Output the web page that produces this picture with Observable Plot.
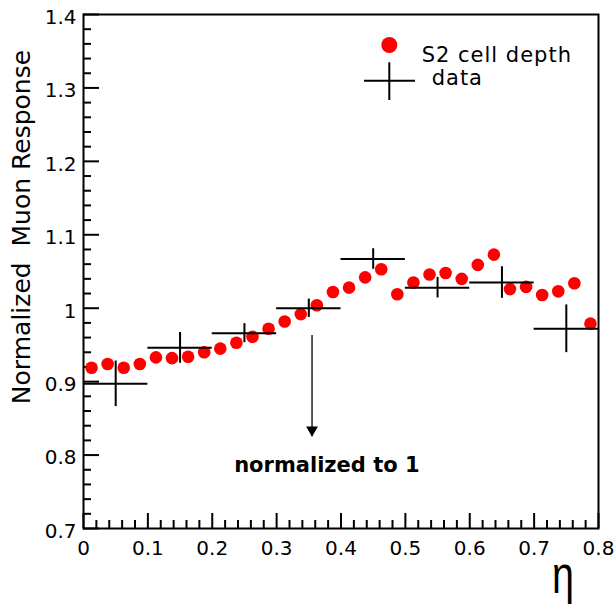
<!DOCTYPE html>
<html><head><meta charset="utf-8">
<script src="https://cdn.jsdelivr.net/npm/d3@7"></script>
<script src="https://cdn.jsdelivr.net/npm/@observablehq/plot@0.6"></script>
<style>body{margin:0;background:#fff} svg text{white-space:pre}</style>
</head><body><div id="chart"></div>
<script>
// Simulation: S2 cell depth (red dots)
const simEta = [0.0125,0.0375,0.0625,0.0875,0.1125,0.1375,0.1625,0.1875,0.2125,0.2375,0.2625,0.2875,0.3125,0.3375,0.3625,0.3875,
                0.4125,0.4375,0.4625,0.4875,0.5125,0.5375,0.5625,0.5875,0.6125,0.6375,0.6625,0.6875,0.7125,0.7375,0.7625,0.7875];
const simValues = [0.919,0.924,0.919,0.924,0.933,0.932,0.934,0.940,0.945,0.953,0.961,0.972,0.982,0.992,1.004,1.022,
                   1.028,1.042,1.053,1.019,1.035,1.046,1.048,1.040,1.059,1.073,1.026,1.029,1.018,1.023,1.034,0.979];
// Data (crosses)
const dataEta = [0.05,0.15,0.25,0.35,0.45,0.55,0.65,0.75];
const dataValues = [0.897,0.946,0.966,1.0,1.067,1.028,1.035,0.972];
const dataErrors = [0.031,0.021,0.013,0.0125,0.014,0.014,0.0215,0.0325];
const dataHalfWidth = [0.05,0.05,0.05,0.05,0.05,0.05,0.05,0.05];
// Axis ticks
const xMajor = [0,0.1,0.2,0.3,0.4,0.5,0.6,0.7,0.8];
const yMajor = [0.7,0.8,0.9,1.0,1.1,1.2,1.3,1.4];
const xMinor = d3.range(1,40).map(i=>i*0.02).filter(v=>Math.abs(v*10-Math.round(v*10))>1e-6);
const yMinor = d3.range(1,35).map(i=>0.7+i*0.02).filter(v=>Math.abs(v*10-Math.round(v*10))>1e-6);
// Annotation
const annotText = ["normalized to 1"];
const annotEta = [0.378];
const annotValue = [0.786];
const arrowEta = [0.355];
const arrowFrom = [0.963];
const arrowTo = [0.825];
const yTitle = ["Normalized  Muon Response"];
const legendLabels = ["S2 cell depth", "data"];

const sim = simEta.map((e,i)=>({eta:e, v:simValues[i]}));
const dat = dataEta.map((e,i)=>({eta:e, v:dataValues[i], err:dataErrors[i], hw:dataHalfWidth[i]}));
const arrow = arrowEta.map((e,i)=>({eta:e, from:arrowFrom[i], to:arrowTo[i]}));
const annot = annotText.map((t,i)=>({t, eta:annotEta[i], v:annotValue[i]}));

const W=615,H=606, mL=83, mR=17, mT=14, mB=78;
const iW=W-mL-mR, iH=H-mT-mB;
const FONT="DejaVu Sans";

const chart = Plot.plot({
  width:W, height:H, marginLeft:mL, marginRight:mR, marginTop:mT, marginBottom:mB,
  style:{fontFamily:FONT, fontSize:"20px", background:"white", color:"black"},
  x:{domain:[0,0.8], label:null},
  y:{domain:[0.7,1.4], label:null},
  marks:[
    Plot.axisX({ticks:xMajor, tickSize:0, tickPadding:12, fontSize:20, tickFormat:d3.format("")}),
    Plot.axisY({ticks:yMajor, tickSize:0, tickPadding:7, fontSize:20, dy:3, tickFormat:d3.format("")}),
    Plot.tickY(yMajor, {y:d=>d, insetRight:iW-16, stroke:"black", strokeWidth:2}),
    Plot.tickY(yMinor, {y:d=>d, insetRight:iW-8, stroke:"black", strokeWidth:2}),
    Plot.tickX(xMajor, {x:d=>d, insetTop:iH-15, stroke:"black", strokeWidth:2}),
    Plot.tickX(xMinor, {x:d=>d, insetTop:iH-8, stroke:"black", strokeWidth:2}),
    Plot.dot(sim, {x:"eta", y:"v", r:6.3, fill:"#ff0000", stroke:null}),
    Plot.ruleY(dat, {y:"v", x1:d=>d.eta-d.hw, x2:d=>d.eta+d.hw, stroke:"black", strokeWidth:2}),
    Plot.ruleX(dat, {x:"eta", y1:d=>d.v-d.err, y2:d=>d.v+d.err, stroke:"black", strokeWidth:2}),
    Plot.ruleX(arrow, {x:"eta", y1:"from", y2:"to", stroke:"black", strokeWidth:1.3}),
    Plot.dot(arrow, {x:"eta", y:"to", symbol:"triangle", rotate:180, r:4.4, fill:"black", stroke:null, dy:-6.8}),
    Plot.text(annot, {x:"eta", y:"v", text:"t", fontWeight:"bold", fontSize:21, textAnchor:"middle", fill:"black"}),
    Plot.text(yTitle, {frameAnchor:"left", text:d=>d, rotate:-90, textAnchor:"middle", dx:-62, dy:-44.5, fontSize:25, fill:"black"}),
    Plot.frame({stroke:"black", strokeWidth:2})
  ]
});
document.getElementById("chart").appendChild(chart);

// Legend and axis symbol
const svg = d3.select(chart);
const lg = svg.append("g").attr("text-anchor","start");
lg.append("circle").attr("cx",389.3).attr("cy",45).attr("r",8).attr("fill","#ff0000");
lg.append("line").attr("x1",364).attr("x2",415).attr("y1",80.7).attr("y2",80.7).attr("stroke","black").attr("stroke-width",2);
lg.append("line").attr("x1",389.3).attr("x2",389.3).attr("y1",62.3).attr("y2",100).attr("stroke","black").attr("stroke-width",2);
lg.append("text").attr("x",421.7).attr("y",62).attr("text-anchor","start").text(legendLabels[0])
  .style("font-family",FONT).style("font-size","21px").style("letter-spacing","1px").attr("fill","black");
lg.append("text").attr("x",431.7).attr("y",85).attr("text-anchor","start").text(legendLabels[1])
  .style("font-family",FONT).style("font-size","21px").style("letter-spacing","1px").attr("fill","black");
svg.append("text").attr("transform","translate(563,593) scale(0.76,1)").attr("text-anchor","middle")
  .style("font-family","Liberation Sans").style("font-size","52px").attr("fill","black").text("η");
</script></body></html>
